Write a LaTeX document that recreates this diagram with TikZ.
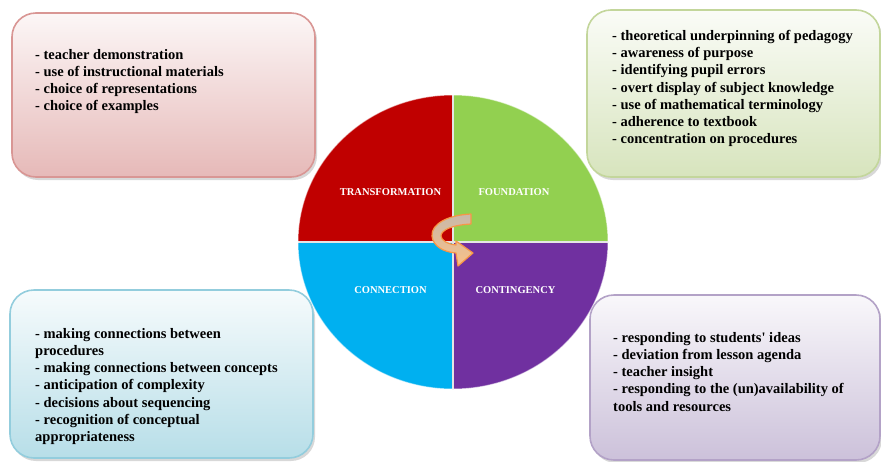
\documentclass[tikz,border=0pt]{standalone}
\usepackage{fontspec}
\setmainfont{Liberation Serif}
\usepackage{tikz}
\usetikzlibrary{shadows}
\definecolor{trred}{RGB}{192,0,0}
\definecolor{fdgreen}{RGB}{146,208,80}
\definecolor{cnblue}{RGB}{0,176,240}
\definecolor{ctpurple}{RGB}{112,48,160}
\definecolor{tlline}{RGB}{217,150,148}
\definecolor{tlfill}{RGB}{230,185,184}
\definecolor{trline}{RGB}{195,214,155}
\definecolor{trfill}{RGB}{215,228,189}
\definecolor{blline}{RGB}{147,205,221}
\definecolor{blfill}{RGB}{183,222,232}
\definecolor{brline}{RGB}{179,162,199}
\definecolor{brfill}{RGB}{204,193,218}
\definecolor{arrline}{RGB}{247,150,70}
\definecolor{arrtail}{RGB}{200,185,170}
\definecolor{arrhead}{RGB}{250,192,135}

\begin{document}
\begin{tikzpicture}[x=1pt, y=-1pt,
    panel/.style 2 args={draw=#2, line width=1.6pt, rounded corners=24pt,
        top color=#1!12!white, bottom color=#1,
        drop shadow={shadow xshift=2pt, shadow yshift=-3pt, opacity=0.3}},
    items/.style={anchor=north west, inner sep=0pt, align=left,
        font=\fontsize{14.5}{17.2}\selectfont\bfseries},
    quad/.style={text=white, font=\fontsize{10.5}{12}\selectfont\bfseries}]
    \useasboundingbox (0,0) rectangle (881,461);
    \fill[white] (0,0) rectangle (881,461);

    \node[panel={tlfill}{tlline}, minimum width=303, minimum height=164] (transbox) at (163.5,95) {};
    \node[panel={trfill}{trline}, minimum width=293, minimum height=167] (foundbox) at (733.5,93.5) {};
    \node[panel={blfill}{blline}, minimum width=303, minimum height=168] (connbox) at (161.5,374) {};
    \node[panel={brfill}{brline}, minimum width=290, minimum height=165] (contbox) at (735,377.5) {};

    \node[items] (translist) at (35,49) {- teacher demonstration\\- use of instructional materials\\- choice of representations\\- choice of examples};
    \node[items] (foundlist) at (612,30) {- theoretical underpinning of pedagogy\\- awareness of purpose\\- identifying pupil errors\\- overt display of subject knowledge\\- use of mathematical terminology\\- adherence to textbook\\- concentration on procedures};
    \node[items] (connlist) at (35,328) {- making connections between\\procedures\\- making connections between concepts\\- anticipation of complexity\\- decisions about sequencing\\- recognition of conceptual\\appropriateness};
    \node[items] (contlist) at (613,332) {- responding to students\textquotesingle{} ideas\\- deviation from lesson agenda\\- teacher insight\\- responding to the (un)availability of\\tools and resources};

    \begin{scope}
        \clip (453,242) ellipse [x radius=155, y radius=147];
        \foreach \col/\xa/\ya/\xb/\yb in {trred/290/80/453/242, fdgreen/453/80/615/242,
                cnblue/290/242/453/400, ctpurple/453/242/615/400} {
            \fill[\col] (\xa,\ya) rectangle (\xb,\yb);
        }
        \draw[white!80!gray, line width=1.2pt] (290,242) -- (615,242) (453,80) -- (453,400);
    \end{scope}
    \draw[white, opacity=0.5, line width=1pt] (453,242) ellipse [x radius=155, y radius=147];

    \node[quad] (transform) at (390.5,192) {TRANSFORMATION};
    \node[quad] (foundation) at (514,192) {FOUNDATION};
    \node[quad] (connection) at (390.5,290) {CONNECTION};
    \node[quad] (contingency) at (515.5,290) {CONTINGENCY};

    \draw[arrline, line width=1.2pt, line join=round, top color=arrtail, bottom color=arrhead]
        (471,214) .. controls (448,215) and (431,224) .. (432,236)
        .. controls (433,246) and (443,252) .. (456,253)
        -- (458,266) -- (473,253) -- (456,241) -- (456,245)
        .. controls (447,244) and (441,240) .. (441,236)
        .. controls (441,230) and (452,225) .. (471,224) -- cycle;
\end{tikzpicture}
\end{document}
